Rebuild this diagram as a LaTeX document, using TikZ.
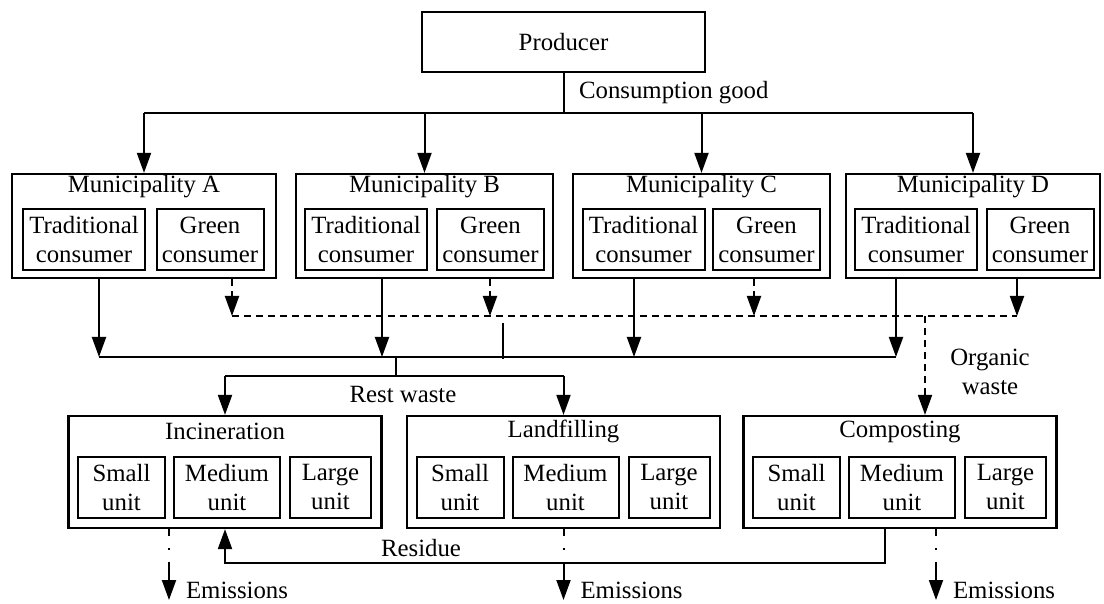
\documentclass[tikz,border=0pt]{standalone}
\usepackage{fontspec}
\setmainfont{Liberation Serif}
\usetikzlibrary{arrows.meta,positioning,calc}

\begin{document}
\begin{tikzpicture}[
  x=0.5pt, y=-0.5pt,
  font=\fontsize{12.4}{14.5}\selectfont,
  prodbox/.style={draw, line width=1.1pt, minimum width=141.5pt, minimum height=30pt, inner sep=0pt},
  muni/.style={draw, line width=1.1pt, minimum width=128.5pt, minimum height=52pt, inner sep=0pt},
  plant/.style={draw, line width=1.1pt, minimum width=156.5pt, minimum height=56pt, inner sep=0pt},
  sub/.style={draw, line width=1pt, align=center, inner sep=0pt, minimum height=30.5pt},
  trad/.style={sub, minimum width=61pt},
  green/.style={sub, minimum width=53.5pt},
  small/.style={sub, minimum width=43.5pt},
  medium/.style={sub, minimum width=53pt},
  large/.style={sub, minimum width=40.5pt},
  ttl/.style={inner sep=0pt},
  link/.style={line width=1pt},
  arrow/.style={-{Triangle[length=10pt,width=7pt]}, line width=1pt},
  organic/.style={dash pattern=on 3.5pt off 2.5pt},
  emit/.style={dash pattern=on 3.5pt off 6pt on 1pt off 6pt on 30pt off 1pt},
]
\useasboundingbox (0,0) rectangle (1104,604);

%% ---- Producer ----
\node[prodbox] (prod) at (563.5,42) {Producer};

%% ---- Municipalities ----
\node[muni, minimum width=132pt] (muA) at (144,226) {};
\node[muni] (muB) at (424.5,226) {};
\node[muni] (muC) at (701.5,226) {};
\node[muni, minimum width=127pt] (muD) at (973,226) {};

\node[ttl] (muAt) at ($(muA.north)+(0,14)$) {Municipality A};
\node[ttl] (muBt) at ($(muB.north)+(0,14)$) {Municipality B};
\node[ttl] (muCt) at ($(muC.north)+(0,14)$) {Municipality C};
\node[ttl] (muDt) at ($(muD.north)+(0,14)$) {Municipality D};

\node[trad]  (trA) at ($(muA)+(-60,13.5)$) {Traditional\\consumer};
\node[green] (grA) at ($(muA)+(66,13.5)$) {Green\\consumer};
\node[trad]  (trB) at ($(muB)+(-58.5,13.5)$) {Traditional\\consumer};
\node[green] (grB) at ($(muB)+(66,13.5)$) {Green\\consumer};
\node[trad]  (trC) at ($(muC)+(-58,13.5)$) {Traditional\\consumer};
\node[green] (grC) at ($(muC)+(65,13.5)$) {Green\\consumer};
\node[trad]  (trD) at ($(muD)+(-57,13.5)$) {Traditional\\consumer};
\node[green] (grD) at ($(muD)+(67,13.5)$) {Green\\consumer};

%% ---- Treatment plants ----
\node[plant] (inc)  at (225,472) {};
\node[plant] (land) at (563.5,472) {};
\node[plant] (comp) at (900,472) {};

\node[ttl] (inct)  at ($(inc.north)+(0,17)$) {Incineration};
\node[ttl] (landt) at ($(land.north)+(0,17)$) {Landfilling};
\node[ttl] (compt) at ($(comp.north)+(0,17)$) {Composting};

\node[small]  (incS)  at ($(inc)+(-103.5,15.5)$) {Small\\unit};
\node[medium] (incM)  at ($(inc)+(2,15.5)$) {Medium\\unit};
\node[large]  (incL)  at ($(inc)+(105.5,15.5)$) {Large\\unit};
\node[small]  (landS) at ($(land)+(-103.5,15.5)$) {Small\\unit};
\node[medium] (landM) at ($(land)+(2,15.5)$) {Medium\\unit};
\node[large]  (landL) at ($(land)+(105.5,15.5)$) {Large\\unit};
\node[small]  (compS) at ($(comp)+(-103.5,15.5)$) {Small\\unit};
\node[medium] (compM) at ($(comp)+(2,15.5)$) {Medium\\unit};
\node[large]  (compL) at ($(comp)+(105.5,15.5)$) {Large\\unit};

%% ---- Consumption good ----
\coordinate (gbus) at (0,113);
\draw[link] (prod.south) -- (prod.south |- gbus);
\draw[link] (muA.north |- gbus) -- (muD.north |- gbus);
\draw[arrow] (muA.north |- gbus) -- (muA.north);
\draw[arrow] (muB.north |- gbus) -- (muB.north);
\draw[arrow] (muC.north |- gbus) -- (muC.north);
\draw[arrow] (muD.north |- gbus) -- (muD.north);
\node[anchor=west] (cgl) at (572,93) {Consumption good};

%% ---- Waste collection ----
\coordinate (rbus) at (0,357);
\coordinate (obus) at (0,316);
\coordinate (sA) at ($(muA.south)+(-45,0)$);
\coordinate (sB) at ($(muB.south)+(-42.5,0)$);
\coordinate (sC) at ($(muC.south)+(-67.5,0)$);
\coordinate (sD) at ($(muD.south)+(-77,0)$);
\coordinate (oA) at ($(muA.south)+(88,0)$);
\coordinate (oB) at ($(muB.south)+(65.5,0)$);
\coordinate (oC) at ($(muC.south)+(52.5,0)$);
\coordinate (oD) at ($(muD.south)+(44,0)$);

\draw[arrow] (sA) -- (sA |- rbus);
\draw[arrow] (sB) -- (sB |- rbus);
\draw[arrow] (sC) -- (sC |- rbus);
\draw[arrow] (sD) -- (sD |- rbus);
\draw[link] (sA |- rbus) -- (sD |- rbus);

\draw[arrow, organic] (oA) -- (oA |- obus);
\draw[arrow, organic] (oB) -- (oB |- obus);
\draw[arrow, organic] (oC) -- (oC |- obus);
\draw[arrow] (oD) -- (oD |- obus);
\draw[link, organic] (oA |- obus) -- (oD |- obus);
\draw[link] (503,323) -- (503,359);

%% ---- Rest waste ----
\coordinate (jn) at (396,357);
\coordinate (wbus) at (0,376);
\draw[link] (jn) -- (jn |- wbus);
\draw[link] (inc.north |- wbus) -- (land.north |- wbus);
\draw[arrow] (inc.north |- wbus) -- (inc.north);
\draw[arrow] (land.north |- wbus) -- (land.north);
\node (rwl) at (403,395) {Rest waste};

%% ---- Organic waste ----
\coordinate (og) at ($(comp.north)+(25,0)$);
\draw[arrow, organic] (og |- obus) -- (og);
\node[align=center] (owl) at (990,372) {Organic\\waste};

%% ---- Residue ----
\coordinate (rs) at ($(comp.south)+(-15,0)$);
\coordinate (rsy) at (0,563);
\draw[arrow] (rs) -- (rs |- rsy) -- (inc.south |- rsy) -- (inc.south);
\node (rsl) at (421,548) {Residue};

%% ---- Emissions ----
\coordinate (eI) at ($(inc.south)+(-56,0)$);
\coordinate (eL) at (land.south);
\coordinate (eC) at ($(comp.south)+(36,0)$);
\coordinate (ebot) at (0,600);
\draw[arrow, emit] (eI) -- (eI |- ebot);
\draw[arrow, emit] (eL) -- (eL |- ebot);
\draw[arrow, emit] (eC) -- (eC |- ebot);
\node[anchor=west] (emI) at ($(eI |- ebot)+(10,-10)$) {Emissions};
\node[anchor=west] (emL) at ($(eL |- ebot)+(10,-10)$) {Emissions};
\node[anchor=west] (emC) at ($(eC |- ebot)+(10,-10)$) {Emissions};

\end{tikzpicture}
\end{document}
